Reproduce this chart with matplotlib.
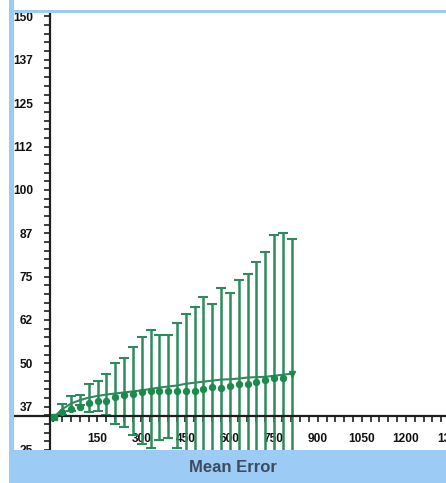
import matplotlib
matplotlib.use("Agg")
import matplotlib.pyplot as plt
from matplotlib.patches import Rectangle
import numpy as np

# sample positions along the run
sample_x = [1, 31, 61, 91, 121, 151, 181, 211, 241, 271, 301, 331, 361, 391,
            421, 451, 481, 511, 541, 571, 601, 631, 661, 691, 721, 751, 781, 811]

# smoothed mean error (line through the bar centres)
mean_line = [34.4, 36.8, 38.4, 39.4, 40.1, 40.6, 41.0, 41.3, 41.6, 41.9, 42.2, 42.6, 43.0, 43.3,
             43.6, 44.1, 44.4, 44.7, 45.0, 45.3, 45.4, 45.6, 45.9, 46.0, 46.1, 46.4, 46.7, 47.0]

# spread around the mean
spread = [0.0, 1.6, 2.1, 1.4, 4.0, 4.4, 6.0, 8.8, 9.9, 12.7, 15.4, 16.9, 15.1, 14.8,
          18.0, 20.1, 21.7, 24.4, 22.1, 26.4, 24.9, 28.5, 29.9, 33.2, 36.1, 40.7, 41.0, 38.8]

# per-sample error
sample_err = [34.4, 35.9, 36.8, 37.4, 38.6, 39.0, 39.2, 40.2, 40.8, 41.2, 41.6, 42.0, 42.0, 42.0,
              42.0, 41.9, 42.1, 42.6, 43.1, 42.9, 43.5, 44.0, 44.0, 44.5, 45.3, 45.8, 45.8, 47.0]

y_ticks = [25, 37.5, 50, 62.5, 75, 87.5, 100, 112.5, 125, 137.5, 150]
y_labels = ['25', '37', '50', '62', '75', '87', '100', '112', '125', '137', '150']
x_ticks = [150, 300, 450, 600, 750, 900, 1050, 1200, 1350]
x_labels = ['150', '300', '450', '600', '750', '900', '1050', '1200', '1350']

green = '#2f8a5e'
dot_green = '#1c8a4c'
band = '#9ccbf6'
ink = '#1e1e1e'

W, H = 446, 483
fig = plt.figure(figsize=(W / 100, H / 100), dpi=100)
fig.patch.set_facecolor('white')

# plot area in pixels: left 50, right past the edge, top 13, bottom 450
ax = fig.add_axes([50 / W, 33 / H, 430 / W, 437 / H])
ax.set_facecolor('white')
ax.set_xlim(-11, 1452)
ax.set_ylim(25.1, 151.0)

ax.errorbar(sample_x[1:], mean_line[1:], yerr=spread[1:], fmt='none', ecolor=green,
            elinewidth=1.8, capsize=3.3, capthick=1.5, zorder=2)
ax.plot(sample_x, mean_line, color=green, lw=1.5, zorder=3)
ax.plot(sample_x[1:-1], sample_err[1:-1], 'o', color=dot_green, ms=4.3, zorder=4)
ax.plot(sample_x[:1], sample_err[:1], 's', color=dot_green, ms=5.0, zorder=4)
ax.plot(sample_x[-1:], sample_err[-1:], 'v', color=dot_green, ms=5.0, zorder=4)

# axes: y spine at left, x spine crossing near the first sample
for s in ['top', 'right']:
    ax.spines[s].set_visible(False)
ax.spines['left'].set_color(ink)
ax.spines['left'].set_linewidth(1.6)
ax.spines['bottom'].set_position(('data', 34.9))
ax.spines['bottom'].set_color(ink)
ax.spines['bottom'].set_linewidth(1.6)
ax.axhline(34.9, xmin=-37 / 430, xmax=0, color=ink, lw=1.6, clip_on=False)

ax.set_yticks(y_ticks)
ax.set_yticklabels(y_labels)
ax.set_yticks(np.arange(25, 151, 2.5), minor=True)
ax.set_xticks(x_ticks)
ax.set_xticklabels(x_labels)
ax.set_xticks(np.arange(0, 1452, 30), minor=True)

for lab in ax.get_yticklabels() + ax.get_xticklabels():
    lab.set_fontfamily(['Liberation Sans Narrow', 'Liberation Sans', 'DejaVu Sans'])
    lab.set_fontweight('bold')
    lab.set_fontsize(8.6)
    lab.set_color('#111111')
ax.tick_params(which='both', direction='out', color=ink, width=1.2, length=4.3)
ax.tick_params(axis='y', which='major', pad=8)
ax.tick_params(axis='x', which='major', pad=8)

# frame: light blue stripes and the title band
fig.add_artist(Rectangle((9 / W, 0), 5 / W, 1, transform=fig.transFigure,
                         facecolor=band, edgecolor='none', zorder=5))
fig.add_artist(Rectangle((9 / W, (H - 13) / H), 1, 3 / H, transform=fig.transFigure,
                         facecolor=band, edgecolor='none', zorder=5))
fig.add_artist(Rectangle((9 / W, 0), 1, 33 / H, transform=fig.transFigure,
                         facecolor=band, edgecolor='none', zorder=5))
fig.text(233 / W, 15 / H, 'Mean Error', ha='center', va='center', fontsize=12,
         fontweight='bold', family='Liberation Sans', color='#3d4b5e', zorder=6)

fig.savefig('out.png', dpi=100)
